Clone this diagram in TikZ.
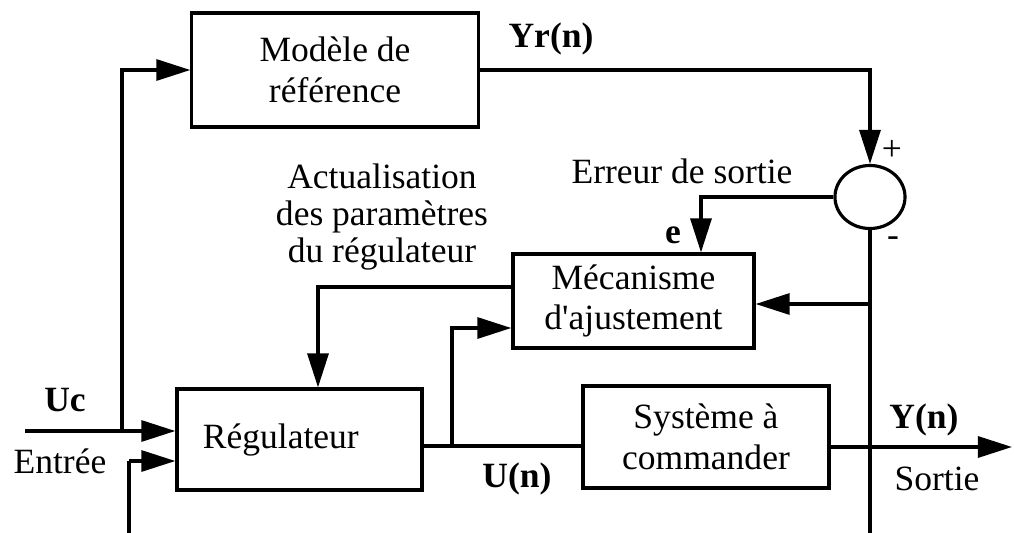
\documentclass[tikz,border=0pt]{standalone}
\usepackage{fontspec}
\newfontfamily\diagfont{Liberation Serif}
\usetikzlibrary{arrows.meta,shapes.geometric}
\begin{document}
\begin{tikzpicture}[x=0.01cm,y=-0.01cm,
  line width=0.9pt,
  font=\diagfont\fontsize{10.1pt}{11.6pt}\selectfont,
  blockbox/.style={draw, rectangle, align=center, inner sep=0pt},
  flow/.style={-{Triangle[length=0.34cm,width=0.21cm]}},
  lbl/.style={anchor=base, inner sep=0pt},
  sig/.style={lbl, font=\diagfont\fontsize{10.1pt}{11.6pt}\selectfont\bfseries}]
\useasboundingbox (0,0) rectangle (1014,533);

% blocks
\node[blockbox, minimum width=2.86cm, minimum height=1.14cm] (ref) at (335,70) {Modèle de\\référence};
\node[blockbox, minimum width=2.41cm, minimum height=0.94cm] (adj) at (633.5,301) {Mécanisme\\d'ajustement};
\node[blockbox, minimum width=2.45cm, minimum height=1.01cm, text width=1.93cm, align=left, inner xsep=0.26cm] (reg) at (299.5,439.5) {Régulateur};
\node[blockbox, minimum width=2.46cm, minimum height=1.02cm] (plant) at (706,437) {Système à\\commander};
\node[draw, ellipse, minimum width=0.70cm, minimum height=0.63cm, inner sep=0pt] (sum) at (870,197) {};

% routing points
\coordinate (ucin) at (25,431);
\coordinate (ucsplit) at (122,431);
\coordinate (eb) at (701,197);
\coordinate (tap) at (870,304);
\coordinate (fbright) at (870,537);
\coordinate (fbleft) at (129,537);
\coordinate (fbup) at (129,461);
\coordinate (ub) at (452,446);
\coordinate (ubtop) at (452,328);
\coordinate (ac) at (318,287);
\coordinate (yout) at (1012,447);

% signal paths
\draw[flow] (ucin) -- (reg.west |- ucsplit);
\draw[flow] (ucsplit) |- (ref.west);
\draw[flow] (ref.east) -| (sum.north);
\draw[flow] (sum.west) -| (adj.north -| eb);
\draw (sum.south) -- (fbright) -- (fbleft) -- (fbup);
\draw[flow] (fbup) -- (reg.west |- fbup);
\draw[flow] (tap) -- (tap -| adj.east);
\draw (reg.east |- ub) -- (plant.west |- ub);
\draw[flow] (ub) -- (ubtop) -- (ubtop -| adj.west);
\draw[flow] (adj.west |- ac) -| (reg.north -| ac);
\draw[flow] (plant.east |- yout) -- (yout);

% labels
\node[sig] (yr) at (551,47) {Yr(n)};
\node[sig] (uc) at (65,411) {Uc};
\node[lbl] (entree) at (60,473) {Entrée};
\node[sig] (un) at (517,487) {U(n)};
\node[sig] (yn) at (924,428) {Y(n)};
\node[lbl] (sortie) at (937,490) {Sortie};
\node[sig] (e) at (673,243) {e};
\node[lbl] (err) at (682,183) {Erreur de sortie};
\node[inner sep=0pt, align=center, font=\diagfont\fontsize{10.1pt}{10.4pt}\selectfont] (act) at (382,217) {Actualisation\\des paramètres\\du régulateur};
\node[lbl] (plus) at (892,160) {+};
\node[lbl] (minus) at (893,246) {-};
\end{tikzpicture}
\end{document}
